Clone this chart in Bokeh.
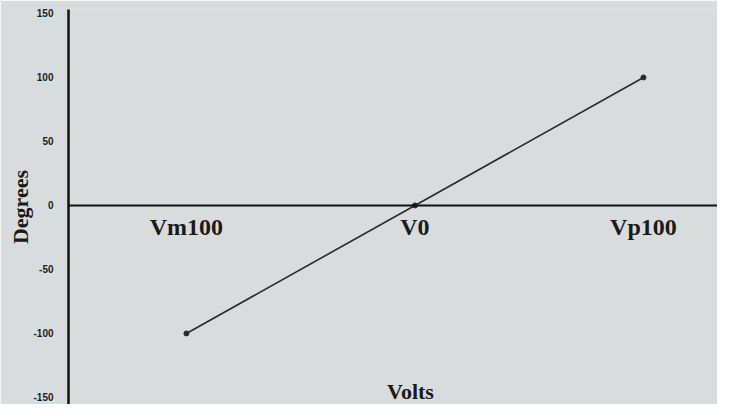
from bokeh.plotting import figure
from bokeh.models import Range1d, FixedTicker, Label
from bokeh.embed import file_html
from bokeh.resources import INLINE

# ---- data ----
categories = ["Vm100", "V0", "Vp100"]
degrees = [-100, 0, 100]
y_ticks = [-150, -100, -50, 0, 50, 100, 150]
y_tick_labels = ["-150", "-100", "-50", "0", "50", "100", "150"]
x_title = "Volts"
y_title = "Degrees"

xs = list(range(len(categories)))

BG = "#d8dcdc"

p = figure(width=717, height=404, output_backend="svg", toolbar_location=None,
           x_range=Range1d(-0.516, 2.324), y_range=Range1d(-155.5, 153.1),
           min_border_left=68, min_border_right=0, min_border_top=9, min_border_bottom=0,
           background_fill_color=BG, border_fill_color=BG, outline_line_color=None)

p.grid.visible = False

# x axis drawn at y = 0
xa = p.xaxis[0]
xa.fixed_location = 0
xa.ticker = FixedTicker(ticks=xs)
xa.major_label_overrides = {x: c for x, c in zip(xs, categories)}
xa.axis_line_color = "#111111"
xa.axis_line_width = 2
xa.major_tick_line_color = None
xa.minor_tick_line_color = None
xa.major_label_standoff = 3
xa.major_label_text_font = "Liberation Serif"
xa.major_label_text_font_style = "bold"
xa.major_label_text_font_size = "24px"
xa.major_label_text_color = "#1a1a1a"

ya = p.yaxis[0]
ya.ticker = FixedTicker(ticks=y_ticks)
ya.major_label_overrides = {t: l for t, l in zip(y_ticks, y_tick_labels)}
ya.axis_line_color = "#111111"
ya.axis_line_width = 2.5
ya.major_tick_line_color = None
ya.minor_tick_line_color = None
ya.major_label_standoff = 9
ya.major_label_text_font = "Liberation Sans"
ya.major_label_text_font_style = "bold"
ya.major_label_text_font_size = "10px"
ya.major_label_text_color = "#222222"
ya.axis_label = y_title
ya.axis_label_text_font = "Liberation Serif"
ya.axis_label_text_font_style = "bold"
ya.axis_label_text_font_size = "22px"
ya.axis_label_text_color = "#1a1a1a"
ya.axis_label_standoff = -3

p.line(xs, degrees, line_color="#2a2a2a", line_width=1.6)
p.scatter(xs, degrees, size=5, color="#2a2a2a")

p.add_layout(Label(x=342, y=1, x_units="screen", y_units="screen", text=x_title,
                   text_align="center", text_baseline="bottom",
                   text_font="Liberation Serif", text_font_style="bold",
                   text_font_size="22px", text_color="#1a1a1a"))

open("out.html", "w").write(file_html(p, INLINE))
